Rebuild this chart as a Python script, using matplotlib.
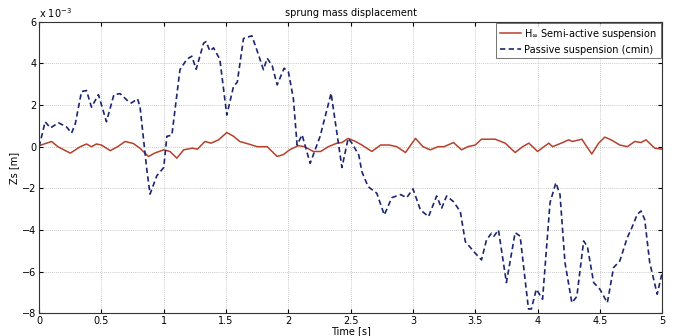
import matplotlib
matplotlib.use('Agg')
import matplotlib.pyplot as plt
import numpy as np

# passive suspension (cmin), values in 1e-3 m
t_pas = [0.0, 0.048, 0.09, 0.155, 0.22, 0.26, 0.29, 0.34, 0.38, 0.42, 0.476, 0.54,
         0.60, 0.65, 0.72, 0.74, 0.79, 0.81, 0.864, 0.89, 0.944, 1.0, 1.025, 1.065,
         1.13, 1.185, 1.225, 1.26, 1.32, 1.34, 1.37, 1.40, 1.45, 1.506, 1.56, 1.59,
         1.64, 1.707, 1.747, 1.80, 1.83, 1.87, 1.91, 1.966, 2.0, 2.04, 2.07, 2.11,
         2.175, 2.255, 2.343, 2.43, 2.48, 2.51, 2.565, 2.59, 2.64, 2.71, 2.77, 2.83,
         2.90, 2.95, 3.0, 3.06, 3.125, 3.19, 3.23, 3.27, 3.325, 3.38, 3.42, 3.50,
         3.55, 3.59, 3.63, 3.65, 3.686, 3.75, 3.82, 3.86, 3.927, 3.95, 3.99, 4.04,
         4.10, 4.147, 4.18, 4.22, 4.275, 4.315, 4.37, 4.40, 4.45, 4.50, 4.56, 4.61,
         4.66, 4.72, 4.757, 4.80, 4.83, 4.86, 4.90, 4.96, 5.0]
z_pas = [0.0, 1.2, 0.9, 1.15, 0.95, 0.65, 1.1, 2.65, 2.7, 1.9, 2.5, 1.2,
         2.5, 2.55, 2.15, 2.1, 2.3, 1.9, -1.1, -2.28, -1.4, -1.0, 0.5, 0.55,
         3.7, 4.2, 4.35, 3.72, 4.98, 5.05, 4.6, 4.75, 4.2, 1.52, 2.9, 3.1,
         5.2, 5.33, 4.65, 3.7, 4.25, 3.9, 2.97, 3.77, 3.6, 2.33, 0.08, 0.57,
         -0.8, 0.5, 2.57, -1.0, 0.4, 0.17, -0.4, -1.2, -1.92, -2.24, -3.28, -2.45,
         -2.3, -2.45, -2.03, -3.04, -3.36, -2.37, -2.96, -2.37, -2.64, -3.12, -4.56, -5.12,
         -5.44, -4.48, -4.16, -4.3, -4.0, -6.53, -4.13, -4.3, -7.8, -7.8, -6.85, -7.33,
         -2.69, -1.73, -2.3, -5.57, -7.5, -7.2, -4.53, -4.8, -6.53, -6.85, -7.5, -5.81,
         -5.49, -4.37, -3.89, -3.25, -3.09, -3.5, -5.57, -7.09, -6.05]

# H-infinity semi-active suspension, values in 1e-3 m
t_act = [0.0, 0.10, 0.15, 0.25, 0.33, 0.38, 0.42, 0.46, 0.50, 0.57, 0.63, 0.69,
         0.757, 0.81, 0.877, 0.93, 1.0, 1.05, 1.105, 1.16, 1.23, 1.27, 1.33, 1.38,
         1.44, 1.506, 1.56, 1.61, 1.68, 1.75, 1.83, 1.91, 1.96, 2.01, 2.08, 2.13,
         2.20, 2.26, 2.32, 2.39, 2.43, 2.48, 2.54, 2.59, 2.67, 2.74, 2.81, 2.87,
         2.94, 3.02, 3.08, 3.14, 3.2, 3.25, 3.325, 3.39, 3.44, 3.5, 3.55, 3.66,
         3.74, 3.82, 3.88, 3.93, 4.0, 4.09, 4.12, 4.19, 4.25, 4.28, 4.355, 4.435,
         4.49, 4.54, 4.59, 4.66, 4.72, 4.78, 4.83, 4.87, 4.94, 5.0]
z_act = [0.05, 0.25, 0.0, -0.31, 0.0, 0.13, 0.0, 0.13, 0.08, -0.19, 0.0, 0.25,
         0.15, -0.08, -0.47, -0.3, -0.15, -0.23, -0.55, -0.15, -0.07, -0.12, 0.25, 0.17,
         0.33, 0.68, 0.5, 0.25, 0.13, 0.0, 0.0, -0.47, -0.38, -0.15, 0.05, 0.0,
         -0.23, -0.23, 0.0, 0.17, 0.2, 0.4, 0.25, 0.08, -0.23, 0.08, 0.08, 0.0,
         -0.28, 0.4, 0.0, -0.15, 0.0, 0.0, 0.2, -0.15, 0.0, 0.08, 0.36, 0.36,
         0.17, -0.28, 0.0, 0.17, -0.23, 0.17, 0.0, 0.17, 0.33, 0.25, 0.36, -0.35,
         0.17, 0.46, 0.33, 0.08, 0.0, 0.25, 0.2, 0.33, -0.07, -0.12]

plt.rcParams['font.family'] = 'DejaVu Sans'
plt.rcParams['font.size'] = 7

fig = plt.figure(figsize=(6.75, 3.36), dpi=100)
ax = fig.add_axes([0.058, 0.068, 0.923, 0.867])

ax.plot(t_act, z_act, color='#b5412b', lw=1.1, label=r'H$_{\infty}$ Semi-active suspension')
ax.plot(t_pas, z_pas, color='#1c2670', lw=1.2, ls=(0, (3.2, 2)), label='Passive suspension (cmin)')

ax.set_xlim(0, 5)
ax.set_ylim(-8, 6)
ax.set_xticks(np.arange(0, 5.01, 0.5))
ax.set_xticklabels(['0', '0.5', '1', '1.5', '2', '2.5', '3', '3.5', '4', '4.5', '5'])
ax.set_yticks(np.arange(-8, 7, 2))
ax.tick_params(direction='in', top=True, right=True, length=3, pad=2, labelsize=7)
ax.grid(True, ls=(0, (1, 1.5)), color='#b8b8b8', lw=0.6)
for s in ax.spines.values():
    s.set_color('#333333')

ax.set_title('sprung mass displacement', fontsize=7, pad=4)
ax.set_xlabel('Time [s]', fontsize=7, labelpad=0)
ax.set_ylabel('Zs [m]', fontsize=7, labelpad=2)
ax.text(0.0, 1.005, r'x 10$^{-3}$', transform=ax.transAxes, fontsize=7, ha='left', va='bottom')

leg = ax.legend(loc='upper right', fontsize=7, frameon=True, fancybox=False,
                borderaxespad=0.1, handlelength=2.2, handletextpad=0.3, borderpad=0.4,
                labelspacing=0.4)
leg.get_frame().set_edgecolor('#333333')
leg.get_frame().set_linewidth(0.6)

fig.savefig('out.png', dpi=100)
